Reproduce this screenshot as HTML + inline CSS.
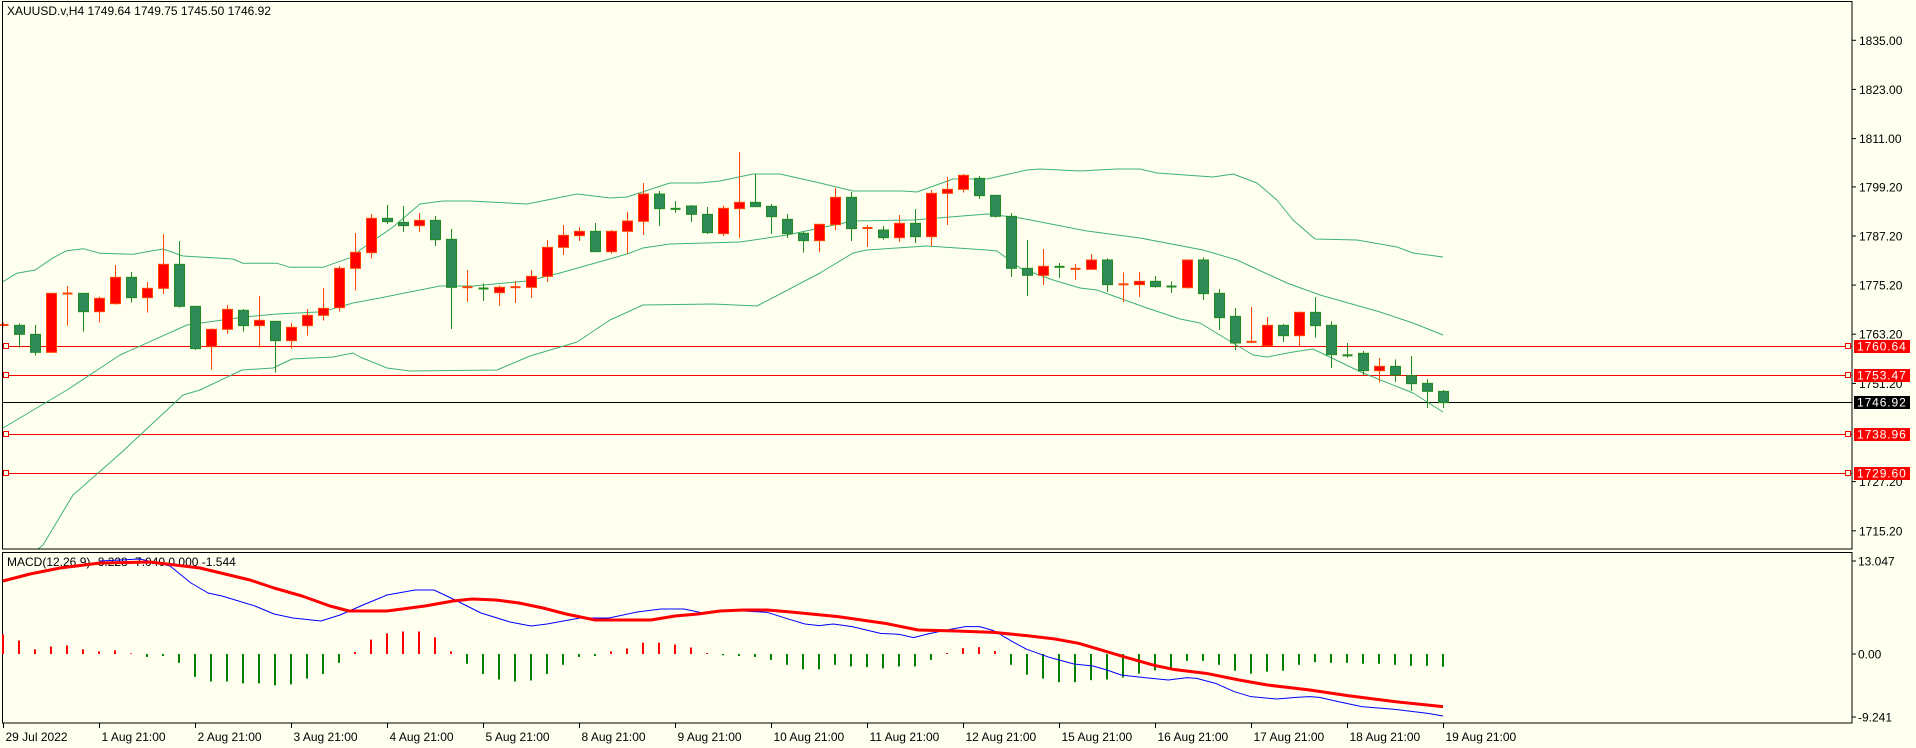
<!DOCTYPE html>
<html><head><meta charset="utf-8">
<style>
html,body{margin:0;padding:0;background:#FFFFF0;}
svg{display:block;font-family:"Liberation Sans",sans-serif;font-size:12px;}
</style></head>
<body>
<svg id="s" width="1916" height="748" xmlns="http://www.w3.org/2000/svg">
<rect x="0" y="0" width="1916" height="748" fill="#FFFFF0"/>
<g id="g"></g>
</svg>
<script>
var NS="http://www.w3.org/2000/svg";var g=document.getElementById('g');
function el(t,a,txt){var e=document.createElementNS(NS,t);for(var k in a)e.setAttribute(k,a[k]);if(txt!==undefined)e.textContent=txt;g.appendChild(e);return e;}
function X(i){return 3.3+16*i;}
var z5=[['r',522,528,518,530],['g',526,553,520,593],['g',553,607,525,617],['r',430,607,430,607],['r',430,431,408,527],['g',430,485,430,545],['r',445,485,440,518],['r',382,461,345,464],['g',382,443,366,458],['r',415,443,396,488],['r',343,415,252,432],['g',343,469,273,473],['g',469,596,469,600],['r',538,590,535,659],['r',478,538,465,551],['g',481,527,477,545],['r',511,527,438,593],['g',514,572,514,668],['r',532,572,519,596],['r',496,527,477,557],['r',475,496,414,512],['r',355,473,348,485],['r',307,355,249,422]];
var z6=[['r',235,338,222,356],['g',235,245,195,252],['g',247,257,198,276],['r',241,257,219,276],['g',241,299,228,318],['g',298,442,267,567],['r',441,442,390,486],['g',442,449,430,483],['r',442,458,437,497],['r',441,442,423,489],['r',409,442,390,474],['r',322,409,300,426],['r',286,322,255,345],['r',274,287,261,303],['g',274,335,249,335],['r',274,335,270,341],['r',243,274,216,340],['r',162,244,129,285],['g',162,206,153,258],['g',204,209,183,219],['g',198,223,195,246],['g',223,278,201,282],['r',205,281,196,288],['r',187,206,36,294],
['g',187,200,103,200],['g',199,230,192,282],['g',238,281,222,294],['g',280,302,274,338],['r',253,302,253,336],['r',172,254,144,270],['g',172,266,156,303],['r',262,266,255,321],['g',270,293,258,299],['r',250,293,225,306],['g',250,290,207,309],['r',160,290,150,319],['r',148,160,111,255],['r',106,148,102,158],['g',115,167,108,177],['g',166,229,166,233],['g',229,385,219,411],['g',385,406,300,468],['r',379,406,327,435],['g',378,383,369,414],['r',384,389,372,420]];
var z8=[['r',300,328,282,328],['g',300,374,295,396],['r',372,374,337,426],['r',364,374,336,411],['g',364,380,348,383],['g',376,383,364,399],['r',300,383,300,386],['g',300,401,292,420],['g',400,473,387,510],['g',469,549,444,570],['r',543,548,441,548],['r',496,557,471,557],['g',496,527,492,546],['r',457,527,455,558],['g',457,497,411,533],['g',496,584,484,624],['g',585,587,549,593],['g',580,632,573,645],['r',619,632,594,667],['g',619,645,598,666],['g',647,671,588,693],['g',670,694,657,744],['g',694,728,690,744]];
var C=[];
z5.forEach(function(c){C.push([c[0],150+c[1]/3,150+c[2]/3,150+c[3]/3,150+c[4]/3]);});
z6.forEach(function(c){C.push([c[0],140+c[1]/3,140+c[2]/3,140+c[3]/3,140+c[4]/3]);});
z8.forEach(function(c){C.push([c[0],160+c[1]/3,160+c[2]/3,160+c[3]/3,160+c[4]/3]);});
var hl=[346,375,434,473];
function pl(pts,col,w){el('polyline',{points:pts.map(function(p){return p[0]+','+p[1];}).join(' '),fill:'none',stroke:col,'stroke-width':w||1,'stroke-linejoin':'round'});}
var up=[[3,281.7],[16.7,273.3],[35.3,270],[53.3,257.7],[66.7,250.7],[83.3,248.7],[100,253.3],[133,254.3],[163,249],[183,256],[233,259],[243,263.3],[277,263.3],[290,267.3],[323,267.3],[353,256.7],[360,250],[393,227],[420,204],[443,201],[470,201],[527,204],[577,194],[610,198],[627,197],[670,183],[700,183],[720,181],[753,174],[780,174],[820,183],[853,191],[903,191],[917,192],[953,179],[987,179],[1027,170],[1040,169],[1080,171],[1117,169],[1140,169],[1157,173],[1213,177],[1233,174],[1257,183],[1277,200],[1293,220],[1315,239],[1357,240],[1397,247],[1413,253],[1443,257]];
var md=[[3,428],[67,390],[120,355],[187,325],[244,317],[277,314],[323,311.7],[353,303],[380,298],[440,286],[473,286],[527,281],[560,273],[627,254],[643,248],[670,244],[740,242],[787,235],[853,221],[913,220],[987,214],[1020,218],[1087,231],[1140,238],[1203,250],[1237,260],[1287,283],[1320,295],[1380,312],[1413,323],[1443,335]];
var lo=[[38,549],[43,545],[73,495],[122,452],[183,395],[200,390],[242,370],[273,368],[292,359],[333,357],[353,353],[360,357],[387,368],[410,371],[497,370],[530,356],[577,342],[610,320],[643,305],[713,304],[757,306],[820,273],[853,253],[867,250],[927,246],[987,250],[997,251],[1020,268],[1053,280],[1080,288],[1097,290],[1147,308],[1180,319],[1200,323],[1223,337],[1253,355],[1267,357],[1293,352],[1313,349],[1363,373],[1413,393],[1443,412]];
hl.forEach(function(y){el('line',{x1:3,x2:1852,y1:y+.5,y2:y+.5,stroke:'#FF0000'});el('rect',{x:3.5,y:y-2.5,width:5,height:5,fill:'#FFFFF0',stroke:'#FF0000'});el('rect',{x:1845.5,y:y-2.5,width:5,height:5,fill:'#FFFFF0',stroke:'#FF0000'});});
el('line',{x1:3,x2:1852,y1:402.5,y2:402.5,stroke:'#000'});
pl(up,'#3CB371');pl(md,'#3CB371');pl(lo,'#3CB371');
C.forEach(function(c,i){var x=Math.round(X(i))+.5;var col=c[0]=='r'?'#FF4500':'#228B22';var fill=c[0]=='r'?'#FF0000':'#2E8B57';
el('line',{x1:x,x2:x,y1:c[3],y2:c[4],stroke:col});
if(c[2]-c[1]<2.5){el('line',{x1:x-5,x2:x+5,y1:(c[1]+c[2])/2,y2:(c[1]+c[2])/2,stroke:col,'stroke-width':2});}
else el('rect',{x:x-5,y:c[1],width:10,height:c[2]-c[1],fill:fill,stroke:col});});
el('rect',{x:2.5,y:1.5,width:1849.5,height:547.5,fill:'none',stroke:'#000'});
el('rect',{x:2.5,y:552.5,width:1849.5,height:170.5,fill:'none',stroke:'#000'});
el('text',{x:7,y:15,fill:'#000'},'XAUUSD.v,H4  1749.64 1749.75 1745.50 1746.92');
[['1835.00',40.3],['1823.00',89.4],['1811.00',138.6],['1799.20',186.9],['1787.20',236],['1775.20',285.1],['1763.20',334.2],['1751.20',383.4],['1727.20',481.6],['1715.20',530.8]].forEach(function(t){el('line',{x1:1852,x2:1856,y1:t[1],y2:t[1],stroke:'#000'});el('text',{x:1859,y:t[1]+4.5,fill:'#000'},t[0]);});
[['1760.64',346,'#FF0000'],['1753.47',375,'#FF0000'],['1746.92',402,'#000'],['1738.96',434,'#FF0000'],['1729.60',473,'#FF0000']].forEach(function(t){el('rect',{x:1854,y:t[1]-6,width:56,height:13,fill:t[2]});el('text',{x:1857,y:t[1]+4.5,fill:'#fff','letter-spacing':'0.9'},t[0]);});
el('text',{x:7,y:566,fill:'#000'},'MACD(12,26,9) -8.228 -7.040 0.000 -1.544');
var h=[158,177,204,195,192,204,210,207,216,227,224,245,288,302,302,308,308,314,311,293,279,245,212,174,155,149,149,167,210,248,279,296,302,299,279,251,227,224,210,201,183,183,189,198,215,222,224,227,236,251,265,265,251,256,258,262,256,256,236,217,200,197,209,251,281,293,304,304,298,296,290,278,268,264,239,239,251,269,278,272,269,251,243,245,245,248,248,251,254,254,257];
h.forEach(function(v,i){var d=(v-218)/3.06;var x=Math.round(X(i));if(Math.abs(d)<0.5)d=d<0?-1:1;var col=d<0?'#FF0000':'#008000';el('rect',{x:x-1,y:d<0?654+d:654,width:2,height:Math.abs(d),fill:col});});
function cv(a){return a.map(function(p){return [720+p[0]/2.119,580+p[1]/3];});}
var blueR=cv([[50,93],[100,97],[140,115],[180,132],[210,137],[240,132],[280,140],[340,160],[380,163],[410,173],[440,162],[480,150],[520,140],[550,140],[580,152],[620,185],[650,208],[700,233],[750,252],[790,258],[820,270],[850,285],[880,290],[950,300],[990,293],[1010,295],[1050,310],[1090,335],[1125,350],[1180,357],[1220,352],[1250,350],[1270,352],[1310,365],[1360,380],[1430,388],[1500,400],[1532,408]]);
var redR=cv([[50,90],[100,90],[150,96],[250,110],[350,130],[420,150],[500,153],[580,157],[650,167],[710,177],[760,190],[820,215],[860,232],[920,256],[960,268],[1030,280],[1100,300],[1160,315],[1250,330],[1330,347],[1430,365],[1532,380]]);
var blue=[[100,561],[140,559],[170,566],[191,583],[208,593],[222,596],[255,606],[274,614],[293,618],[321,621],[340,615],[363,605],[387,595],[415,590],[434,590],[453,599],[481,613],[510,622],[531,626],[547,624],[580,618],[609,618],[637,612],[661,609],[684,609],[703,613],[720,611]].concat(blueR);
var red=[[3,581],[30,574],[60,568],[100,563],[150,562],[200,568],[250,580],[274,588],[302,596],[330,606],[349,611],[387,611],[425,606],[453,601],[472,599],[496,600],[519,603],[543,608],[566,614],[595,620],[651,620],[675,616],[698,614],[720,611]].concat(redR);
pl(blue,'#0000FF',1);pl(red,'#FF0000',3);
[['13.047',561],['0.00',654],['-9.241',717]].forEach(function(t){el('line',{x1:1852,x2:1856,y1:t[1],y2:t[1],stroke:'#000'});el('text',{x:1858,y:t[1]+4.5,fill:'#000'},t[0]);});
var tl=['29 Jul 2022','1 Aug 21:00','2 Aug 21:00','3 Aug 21:00','4 Aug 21:00','5 Aug 21:00','8 Aug 21:00','9 Aug 21:00','10 Aug 21:00','11 Aug 21:00','12 Aug 21:00','15 Aug 21:00','16 Aug 21:00','17 Aug 21:00','18 Aug 21:00','19 Aug 21:00'];
tl.forEach(function(t,k){var x=Math.round(X(6*k))+.5;el('line',{x1:x,x2:x,y1:723,y2:728,stroke:'#000'});el('text',{x:x+2,y:741,fill:'#000'},t);});
</script>
</body></html>
